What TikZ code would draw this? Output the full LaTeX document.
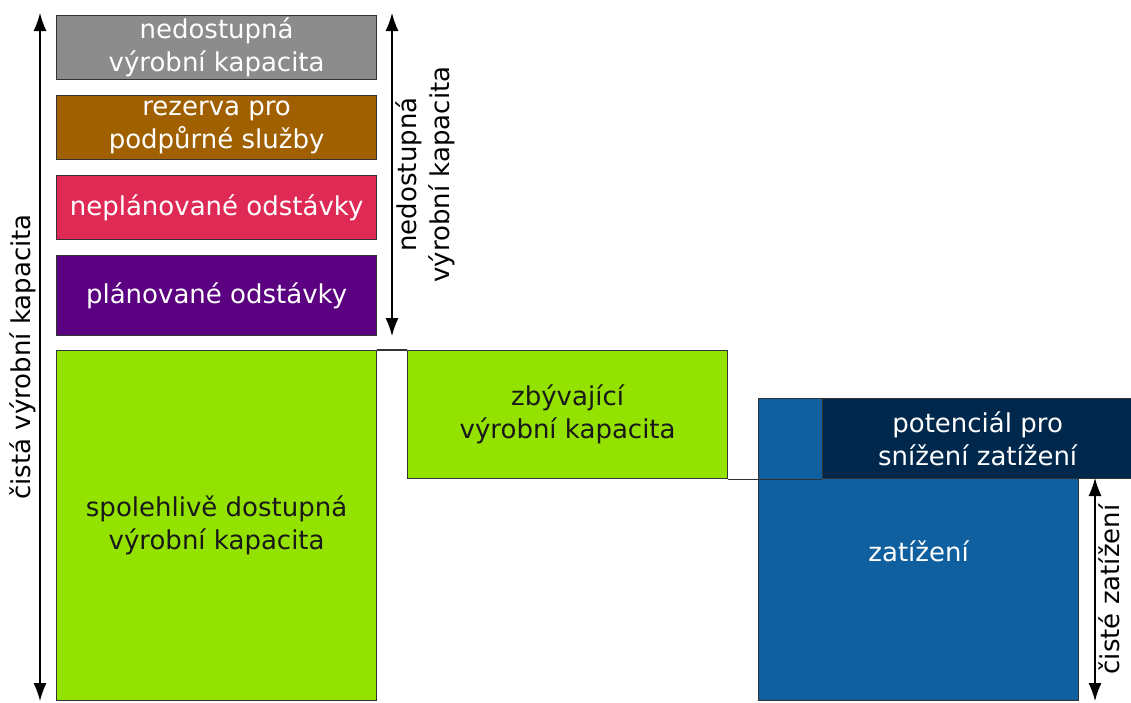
\documentclass[tikz,border=0pt]{standalone}
\usepackage{fontspec}
\setmainfont{DejaVu Sans}
\usepackage{tikz}
\usetikzlibrary{calc,arrows.meta}

\definecolor{grayblk}{RGB}{140,140,140}
\definecolor{brownblk}{RGB}{160,96,0}
\definecolor{redblk}{RGB}{224,42,86}
\definecolor{purpleblk}{RGB}{90,0,128}
\definecolor{greenblk}{RGB}{148,226,0}
\definecolor{blueblk}{RGB}{16,96,160}
\definecolor{navyblk}{RGB}{0,40,77}

\begin{document}
\begin{tikzpicture}[x=1pt,y=-1pt,
    blk/.style={draw=black!80,line width=1.2pt,inner sep=0pt,align=center,
      anchor=north west,text=white,font=\fontsize{26}{33}\selectfont},
    lbl/.style={inner sep=3pt,align=center,font=\fontsize{26}{33}\selectfont},
    dim/.style={line width=1.2pt,{Latex[length=18pt,width=13pt]}-{Latex[length=18pt,width=13pt]}}]
  \useasboundingbox (0,0) rectangle (1131,702);

  %% Boxes of the left column
  \foreach \name/\col/\top/\hgt/\txt in {
      NA/grayblk/15/64/{nedostupná\\výrobní kapacita},
      RS/brownblk/95/64/{rezerva pro\\podpůrné služby},
      UO/redblk/175/64/{neplánované odstávky},
      PO/purpleblk/255/80/{plánované odstávky}}
  {
    \node[blk,fill=\col,minimum width=320pt,minimum height=\hgt pt] (\name) at (56,\top) {\txt};
  }
  \node[blk,fill=greenblk,text=black!90,minimum width=320pt,minimum height=350pt] (RD)
    at (56,350) {spolehlivě dostupná\\výrobní kapacita};

  %% Remaining capacity and load
  \node[blk,fill=greenblk,text=black!90,minimum width=320pt,minimum height=128pt] (RC)
    at (407,350) {zbývající\\výrobní kapacita};
  \node[blk,fill=blueblk,minimum width=320pt,minimum height=302pt] (LD) at (758,398) {};
  \node[blk,fill=navyblk,minimum width=310pt,minimum height=80pt] (DR)
    at (822,398) {potenciál pro\\snížení zatížení};
  \node[lbl,text=white] (LDT) at ($(LD.north)+(0,153)$) {zatížení};

  \draw[line width=1.2pt,black!80] (RD.north east) -- (RC.north west);
  \draw[line width=1.2pt,black!80] (RC.south east) -- (DR.south west);

  %% Dimension arrows
  \coordinate (NCt) at (40,13);
  \coordinate (NCb) at (40,701);
  \coordinate (UCt) at (392,13);
  \coordinate (UCb) at (392,336);
  \coordinate (NLt) at (1095,478);
  \coordinate (NLb) at (1095,701);

  \draw[dim] (NCt) -- (NCb)
    node[lbl,midway,rotate=90,anchor=south] (NCL) {čistá výrobní kapacita};
  \draw[dim] (UCt) -- (UCb)
    node[lbl,midway,rotate=90,anchor=north] (UCL) {nedostupná\\výrobní kapacita};
  \draw[dim] (NLt) -- (NLb)
    node[lbl,midway,rotate=90,anchor=north] (NLL) {čisté zatížení};
\end{tikzpicture}
\end{document}
